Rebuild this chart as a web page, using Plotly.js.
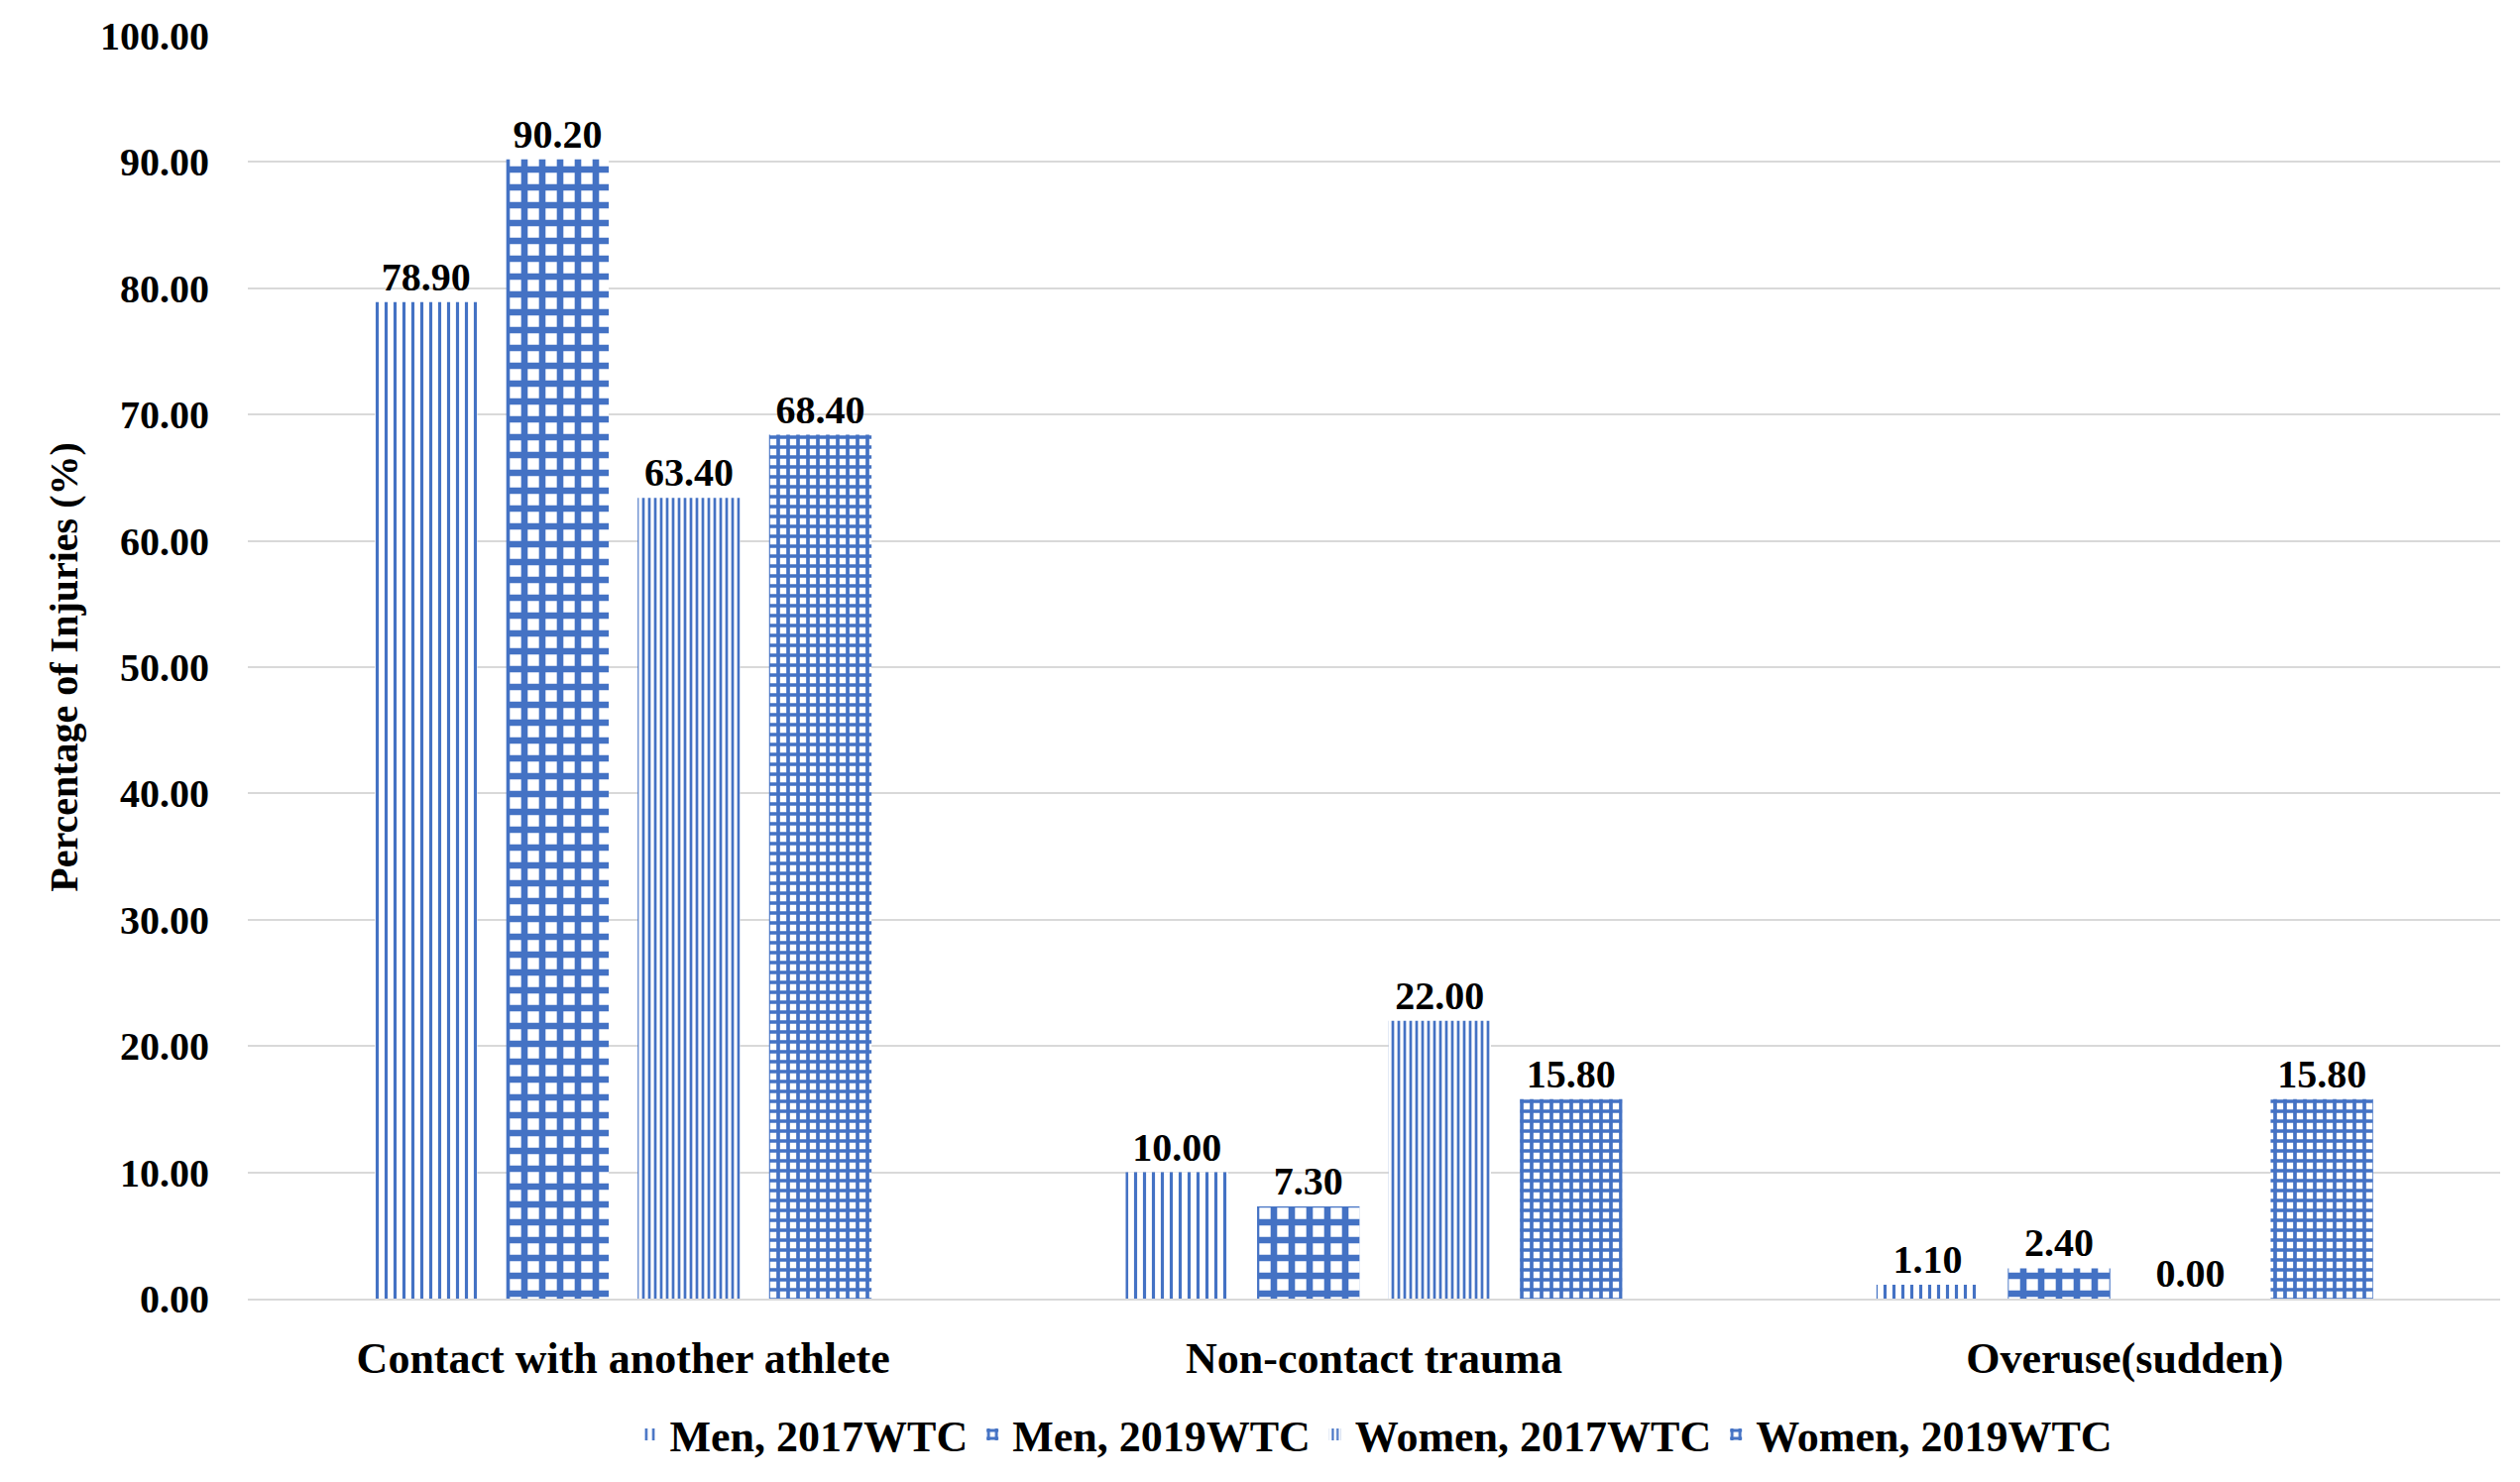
<!DOCTYPE html>
<html><head><script src="https://cdn.plot.ly/plotly-3.0.1.min.js"></script></head>
<body style="margin:0"><div id="c" style="width:2542px;height:1495px"></div>
<script>
const categories = ["Contact with another athlete","Non-contact trauma","Overuse(sudden)"];
const seriesNames = ["Men, 2017WTC","Men, 2019WTC","Women, 2017WTC","Women, 2019WTC"];
const men2017 = [78.90,10.00,1.10];
const men2019 = [90.20,7.30,2.40];
const women2017 = [63.40,22.00,0.00];
const women2019 = [68.40,15.80,15.80];
const tickVals = [0,10,20,30,40,50,60,70,80,90,100];
const vals = [men2017,men2019,women2017,women2019];
const pats = [{shape:"|",size:9,solidity:0.35},{shape:"+",size:18,solidity:0.6},{shape:"|",size:6,solidity:0.45},{shape:"+",size:10,solidity:0.6}];
const F = "Liberation Serif";
const data = vals.map((v,i)=>({
  type:"bar", name:seriesNames[i], x:categories, y:v,
  text:v.map(d=>d.toFixed(2)), textposition:"outside", cliponaxis:false,
  textfont:{family:F,size:40,color:"#000",weight:"bold"},
  marker:{color:"#fff",line:{width:0},pattern:Object.assign({fgcolor:"#4472C4",bgcolor:"#fff",fgopacity:1,fillmode:"overlay"},pats[i])}
}));
Plotly.newPlot("c",data,{
  width:2542,height:1495,paper_bgcolor:"#fff",plot_bgcolor:"#fff",
  margin:{l:250,r:20,t:36,b:180},
  bargap:0.3,bargroupgap:0.22,
  font:{family:F,color:"#000"},
  xaxis:{tickfont:{family:F,size:44,weight:"bold"},showline:true,linecolor:"#d9d9d9",linewidth:2,ticks:"outside",ticklen:20,tickcolor:"#fff"},
  yaxis:{range:[0,100],tickvals:tickVals,ticktext:tickVals.map(t=>t.toFixed(2)),tickfont:{family:F,size:40,weight:"bold"},
    gridcolor:"#d9d9d9",gridwidth:2,zeroline:false,ticklen:30,tickcolor:"#fff",ticks:"outside",
    title:{text:"Percentage of Injuries (%)",font:{family:F,size:40,weight:"bold"},standoff:10}},
  legend:{orientation:"h",x:0.5,xanchor:"center",y:-0.08,yanchor:"top",font:{family:F,size:44,weight:"bold"},itemwidth:30}
},{displayModeBar:false});
</script></body></html>
